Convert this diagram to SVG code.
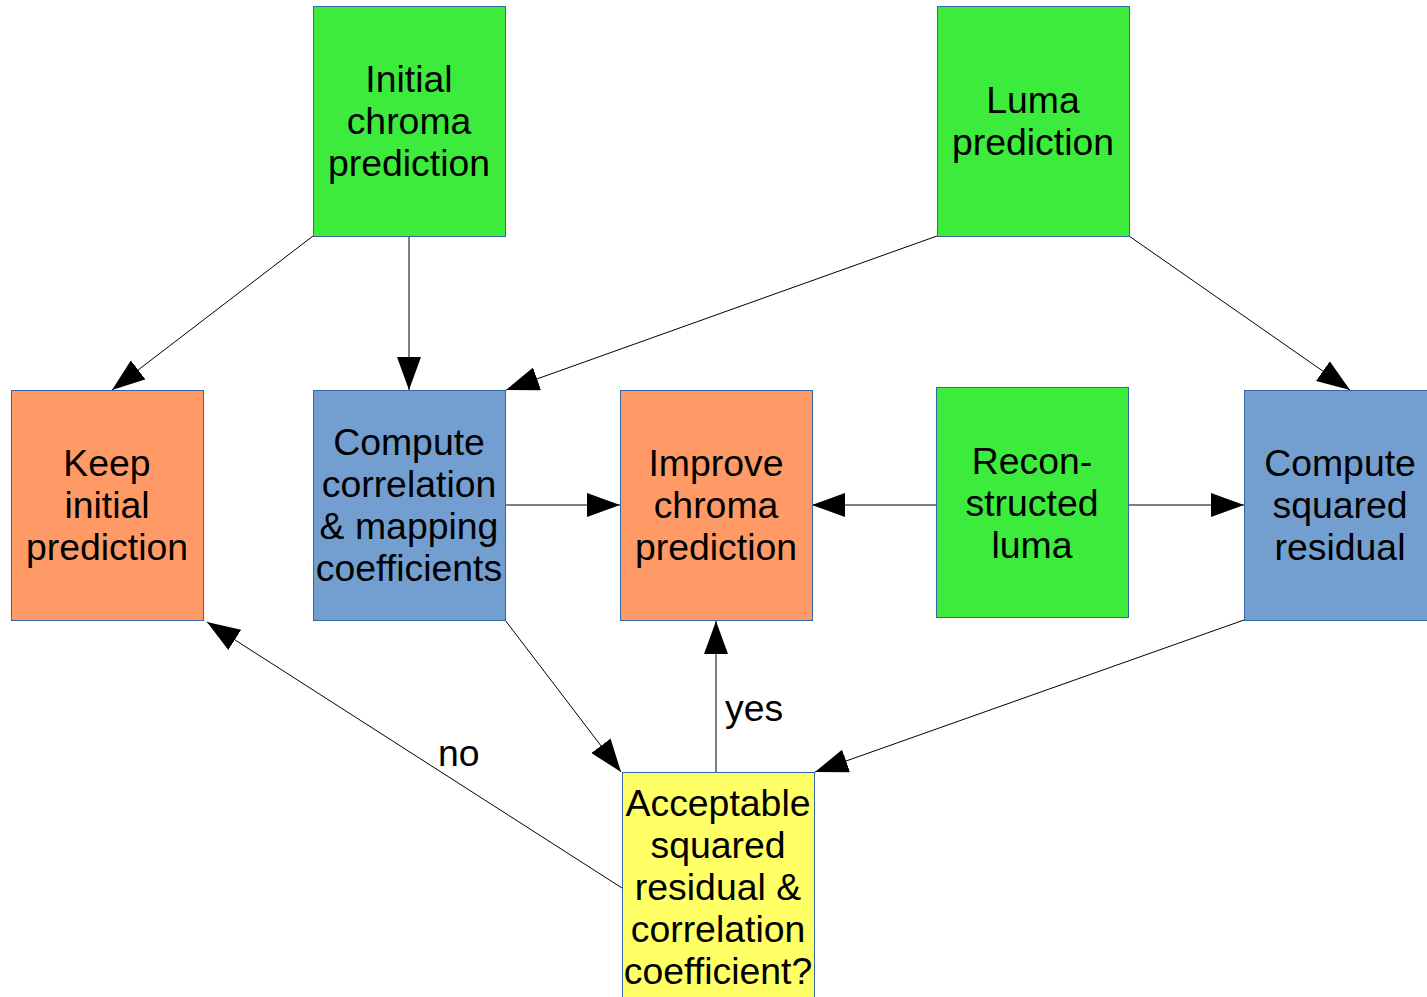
<svg xmlns="http://www.w3.org/2000/svg" width="1427" height="997" viewBox="0 0 1427 997">
<defs>
<marker id="ah" markerUnits="userSpaceOnUse" markerWidth="34" markerHeight="24" refX="33" refY="12" orient="auto">
<path d="M0,0 L33,12 L0,24 Z" fill="#000"/>
</marker>
<style>
.box{stroke:#3465a4;stroke-width:1}
.g{fill:#3deb3d}.o{fill:#ff9966}.b{fill:#729fcf}.y{fill:#ffff66}
text{font-family:"Liberation Sans",Arial,sans-serif;font-size:37.4px;fill:#000;text-anchor:middle}
.c line{stroke:#000;stroke-width:1;marker-end:url(#ah)}
.lbl{text-anchor:start}
</style>
</defs>
<rect width="1427" height="997" fill="#fff"/>
<g class="c" id="connectors">
<line x1="313" y1="236" x2="112" y2="390"/>
<line x1="409" y1="236" x2="409" y2="390"/>
<line x1="937" y1="236" x2="506" y2="390"/>
<line x1="1129" y1="236" x2="1350" y2="390"/>
<line x1="505" y1="505" x2="620" y2="505"/>
<line x1="936" y1="505" x2="812" y2="505"/>
<line x1="1128" y1="505" x2="1244" y2="505"/>
<line x1="505" y1="620" x2="621" y2="772"/>
<line x1="1244" y1="620" x2="815" y2="772"/>
<line x1="716" y1="772" x2="716" y2="621"/>
<line x1="622" y1="888" x2="207" y2="622"/>
<text class="lbl" x="725" y="721">yes</text>
<text class="lbl" x="438" y="766">no</text>
</g>
<g id="initial">
<rect class="box g" x="313.5" y="6.5" width="192" height="230"/>
<text x="409" y="92">Initial</text>
<text x="409" y="134">chroma</text>
<text x="409" y="176">prediction</text>
</g>
<g id="luma">
<rect class="box g" x="937.5" y="6.5" width="192" height="230"/>
<text x="1033" y="113">Luma</text>
<text x="1033" y="155">prediction</text>
</g>
<g id="keep">
<rect class="box o" x="11.5" y="390.5" width="192" height="230"/>
<text x="107" y="476">Keep</text>
<text x="107" y="518">initial</text>
<text x="107" y="560">prediction</text>
</g>
<g id="corr">
<rect class="box b" x="313.5" y="390.5" width="192" height="230"/>
<text x="409" y="455">Compute</text>
<text x="409" y="497">correlation</text>
<text x="409" y="539">&amp; mapping</text>
<text x="409" y="581">coefficients</text>
</g>
<g id="improve">
<rect class="box o" x="620.5" y="390.5" width="192" height="230"/>
<text x="716" y="476">Improve</text>
<text x="716" y="518">chroma</text>
<text x="716" y="560">prediction</text>
</g>
<g id="recon">
<rect class="box g" x="936.5" y="387.5" width="192" height="230"/>
<text x="1032" y="474">Recon-</text>
<text x="1032" y="516">structed</text>
<text x="1032" y="558">luma</text>
</g>
<g id="squared">
<rect class="box b" x="1244.5" y="390.5" width="192" height="230"/>
<text x="1340" y="476">Compute</text>
<text x="1340" y="518">squared</text>
<text x="1340" y="560">residual</text>
</g>
<g id="acceptable">
<rect class="box y" x="622.5" y="772.5" width="192" height="230"/>
<text x="718" y="816">Acceptable</text>
<text x="718" y="858">squared</text>
<text x="718" y="900">residual &amp;</text>
<text x="718" y="942">correlation</text>
<text x="718" y="984">coefficient?</text>
</g>
</svg>
